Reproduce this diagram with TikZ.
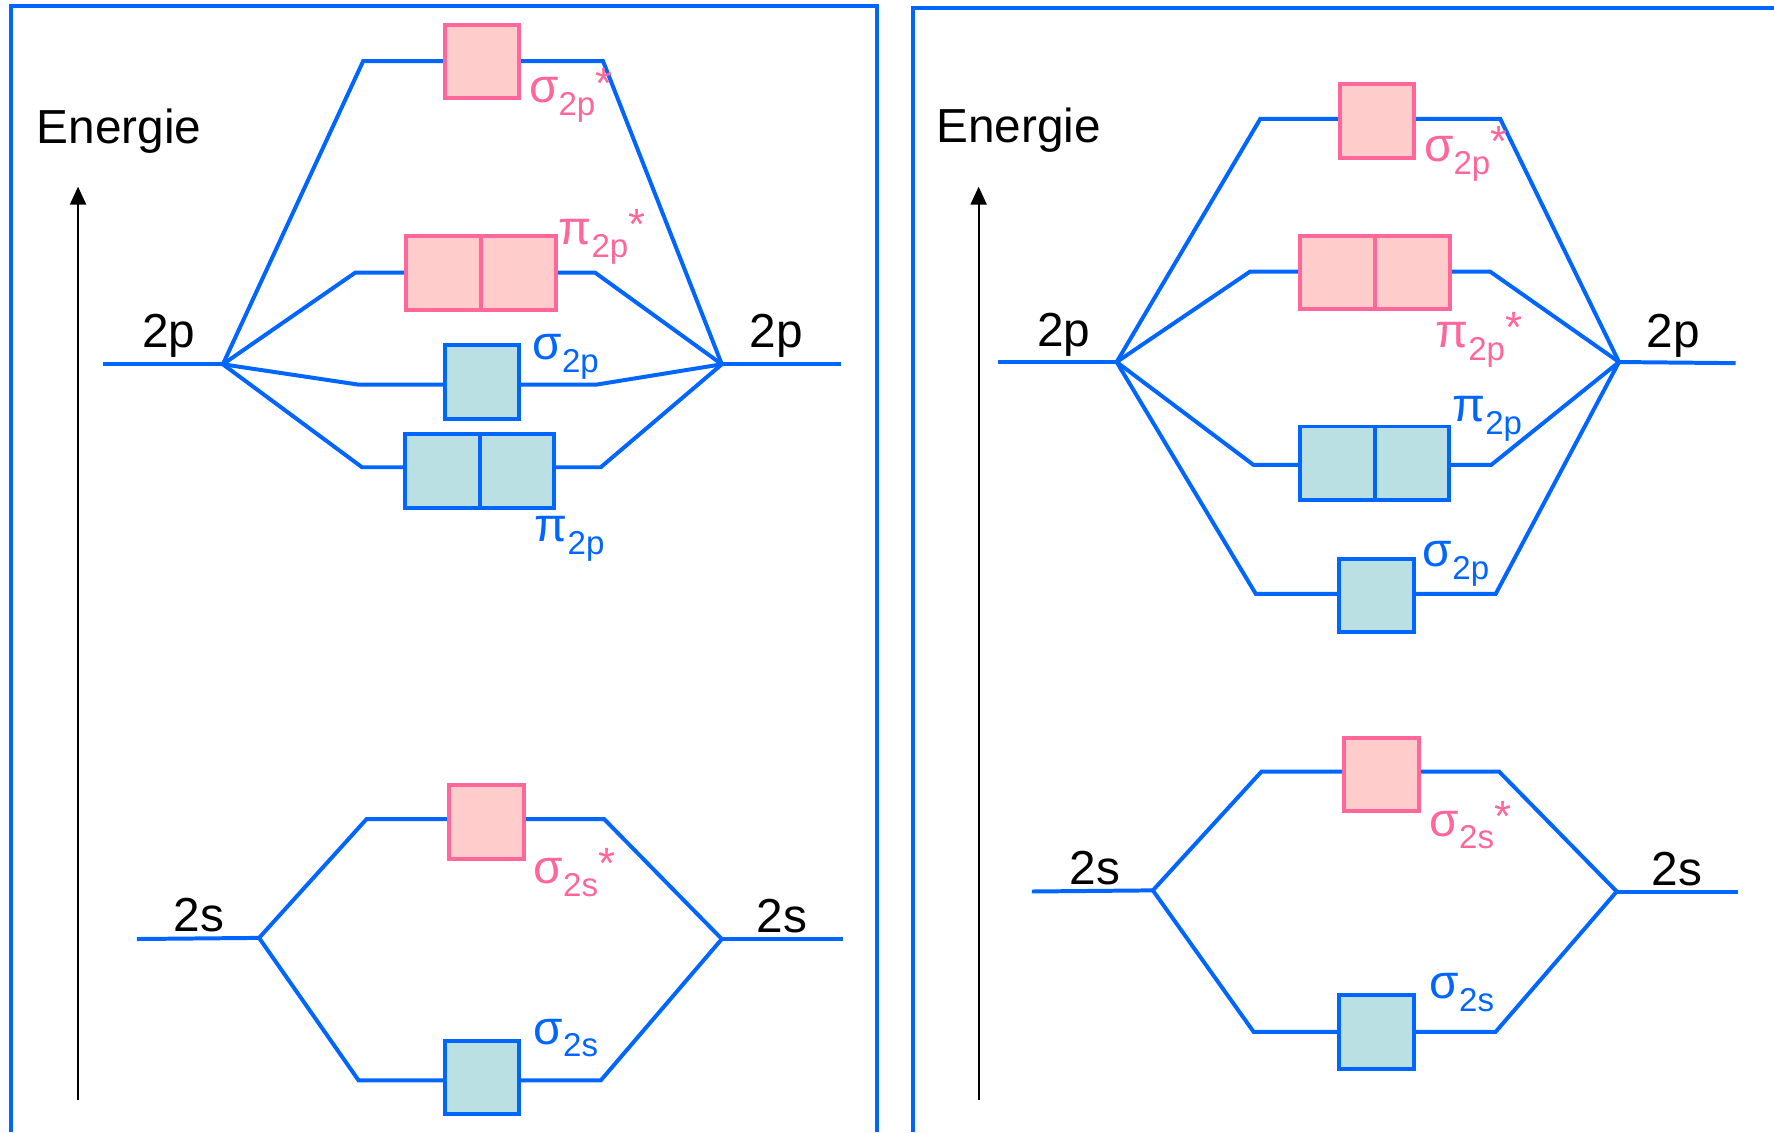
\documentclass[tikz,border=0pt]{standalone}
\usepackage{fontspec}
\setmainfont{Liberation Sans}
\usetikzlibrary{arrows.meta}
\definecolor{lvblue}{RGB}{0,102,255}
\definecolor{pinkline}{RGB}{255,102,153}
\definecolor{pinkfill}{RGB}{255,204,204}
\definecolor{tealfill}{RGB}{187,224,227}
\newcommand\orb[3]{{\fontsize{12}{14}\selectfont #1}\raisebox{-3.2pt}{\fontsize{8.3}{9}\selectfont #2}\raisebox{1.2pt}{\fontsize{11}{13}\selectfont #3}}
\tikzset{
  lvl/.style={draw=lvblue, line width=1pt},
  frame/.style={draw=lvblue, line width=1pt},
  abox/.style={draw=pinkline, fill=pinkfill, line width=1pt, inner sep=0pt, minimum width=0.66cm, minimum height=0.65cm},
  bbox/.style={draw=lvblue, fill=tealfill, line width=1pt, inner sep=0pt, minimum width=0.66cm, minimum height=0.65cm},
  dabox/.style={abox, minimum width=1.32cm},
  dbbox/.style={bbox, minimum width=1.32cm},
  alab/.style={text=pinkline, anchor=base west, inner sep=0pt},
  blab/.style={text=lvblue, anchor=base west, inner sep=0pt},
  klab/.style={text=black, anchor=base west, inner sep=0pt, font=\fontsize{12}{14}\selectfont},
  axis/.style={draw=black, line width=0.55pt, -{Triangle[width=4pt,length=4.5pt]}}
}
\begin{document}
\begin{tikzpicture}[x=0.01cm, y=-0.01cm]
\useasboundingbox (0,0) rectangle (1568,1001);
% frames
\draw[frame] (10,1001) -- (10,5) -- (775,5) -- (775,1001);
\draw[frame] (807,1001) -- (807,7) -- (1568,7);

% ===== LEFT PANEL =====
\node[klab] (enA) at (32,127) {Energie};
\coordinate (arAs) at (69,972);
\coordinate (arAe) at (69,165);
\draw[axis] (arAs) -- (arAe);

\coordinate (pLa) at (91,322);
\coordinate (pLJ) at (197,322);
\coordinate (pRJ) at (638,322);
\coordinate (pRb) at (743,322);
\draw[lvl] (pLa) -- (pLJ);
\draw[lvl] (pRJ) -- (pRb);
\node[klab] (t2pA1) at (125,307) {2p};
\node[klab] (t2pA2) at (662,307) {2p};

\coordinate (a1l) at (321,54); \coordinate (a1r) at (533,54);
\coordinate (a2l) at (314,241); \coordinate (a2r) at (526,241);
\coordinate (a3l) at (317,340); \coordinate (a3r) at (527,340);
\coordinate (a4l) at (320,413); \coordinate (a4r) at (531,413);
\draw[lvl] (pLJ) -- (a1l) -- (a1r) -- (pRJ);
\draw[lvl] (pLJ) -- (a2l) -- (a2r) -- (pRJ);
\draw[lvl] (pLJ) -- (a3l) -- (a3r) -- (pRJ);
\draw[lvl] (pLJ) -- (a4l) -- (a4r) -- (pRJ);
\node[abox] (bA1) at (426,54.5) {};
\node[dabox] (bA2) at (425,241.5) {};
\draw[draw=pinkline, line width=1pt] (bA2.north) -- (bA2.south);
\node[bbox] (bA3) at (426,337.5) {};
\node[dbbox] (bA4) at (424,416.5) {};
\draw[draw=lvblue, line width=1pt] (bA4.north) -- (bA4.south);
\node[alab] (lA1) at (467,91) {\orb{σ}{2p}{*}};
\node[alab] (lA2) at (493,216) {\orb{π}{2p}{*}};
\node[blab] (lA3) at (470,318) {\orb{σ}{2p}{}};
\node[blab] (lA4) at (472,479) {\orb{π}{2p}{}};

\coordinate (sLa) at (121,830);
\coordinate (sLJ) at (229,829);
\coordinate (sRJ) at (638,830);
\coordinate (sRb) at (745,830);
\draw[lvl] (sLa) -- (sLJ);
\draw[lvl] (sRJ) -- (sRb);
\node[klab] (t2sA1) at (153,823) {2s};
\node[klab] (t2sA2) at (668,824) {2s};
\coordinate (a5l) at (324,724); \coordinate (a5r) at (534,724);
\coordinate (a6l) at (317,955); \coordinate (a6r) at (531,955);
\draw[lvl] (sLJ) -- (a5l) -- (a5r) -- (sRJ);
\draw[lvl] (sLJ) -- (a6l) -- (a6r) -- (sRJ);
\node[abox] (bA5) at (430,726.5) {};
\node[bbox] (bA6) at (426,952.5) {};
\node[alab] (lA5) at (471,781) {\orb{σ}{2s}{*}};
\node[blab] (lA6) at (471,923) {\orb{σ}{2s}{}};

% ===== RIGHT PANEL =====
\node[klab] (enB) at (827,126) {Energie};
\coordinate (arBs) at (865,972);
\coordinate (arBe) at (865,165);
\draw[axis] (arBs) -- (arBe);

\coordinate (qLa) at (882,320);
\coordinate (qLJ) at (987,320);
\coordinate (qRJ) at (1431,320);
\coordinate (qRb) at (1534,321);
\draw[lvl] (qLa) -- (qLJ);
\draw[lvl] (qRJ) -- (qRb);
\node[klab] (t2pB1) at (916,306) {2p};
\node[klab] (t2pB2) at (1455,307) {2p};

\coordinate (b1l) at (1114,105); \coordinate (b1r) at (1326,105);
\coordinate (b2l) at (1105,240); \coordinate (b2r) at (1317,240);
\coordinate (b3l) at (1108,411); \coordinate (b3r) at (1318,411);
\coordinate (b4l) at (1110,525); \coordinate (b4r) at (1322,525);
\draw[lvl] (qLJ) -- (b1l) -- (b1r) -- (qRJ);
\draw[lvl] (qLJ) -- (b2l) -- (b2r) -- (qRJ);
\draw[lvl] (qLJ) -- (b3l) -- (b3r) -- (qRJ);
\draw[lvl] (qLJ) -- (b4l) -- (b4r) -- (qRJ);
\node[abox] (bB1) at (1217,107) {};
\node[dabox] (bB2) at (1215.5,241) {};
\draw[draw=pinkline, line width=1pt] (bB2.north) -- (bB2.south);
\node[dbbox] (bB3) at (1215,409.5) {};
\draw[draw=lvblue, line width=1pt] (bB3.north) -- (bB3.south);
\node[bbox] (bB4) at (1216.5,526.5) {};
\node[alab] (lB1) at (1258,143) {\orb{σ}{2p}{*}};
\node[alab] (lB2) at (1268,307) {\orb{π}{2p}{*}};
\node[blab] (lB3) at (1283,373) {\orb{π}{2p}{}};
\node[blab] (lB4) at (1257,501) {\orb{σ}{2p}{}};

\coordinate (rLa) at (912,788);
\coordinate (rLJ) at (1019,787);
\coordinate (rRJ) at (1429,788);
\coordinate (rRb) at (1536,788);
\draw[lvl] (rLa) -- (rLJ);
\draw[lvl] (rRJ) -- (rRb);
\node[klab] (t2sB1) at (945,782) {2s};
\node[klab] (t2sB2) at (1459,783) {2s};
\coordinate (b5l) at (1115,682); \coordinate (b5r) at (1325,682);
\coordinate (b6l) at (1108,912); \coordinate (b6r) at (1322,912);
\draw[lvl] (rLJ) -- (b5l) -- (b5r) -- (rRJ);
\draw[lvl] (rLJ) -- (b6l) -- (b6r) -- (rRJ);
\node[abox] (bB5) at (1221,684.5) {};
\node[bbox] (bB6) at (1216.5,912) {};
\node[alab] (lB5) at (1263,739) {\orb{σ}{2s}{*}};
\node[blab] (lB6) at (1263,883) {\orb{σ}{2s}{}};
\end{tikzpicture}
\end{document}
